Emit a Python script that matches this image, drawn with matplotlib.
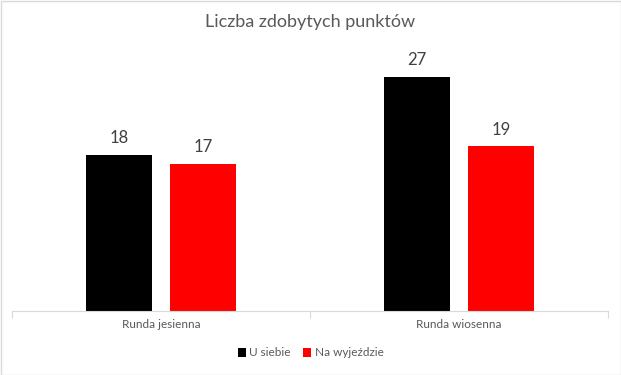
import numpy as np
import matplotlib
matplotlib.use('Agg')
import matplotlib.pyplot as plt
from matplotlib.patches import Rectangle

plt.rcParams['font.family'] = ['Lato', 'DejaVu Sans']

rundy = ['Runda jesienna', 'Runda wiosenna']
u_siebie = [18, 27]
na_wyjezdzie = [17, 19]

fig = plt.figure(figsize=(6.21, 3.75), dpi=100)
ax = fig.add_axes([12/621, 1-311/375, 596/621, 260/375])

x = np.arange(len(rundy))
w = 0.221
b1 = ax.bar(x - 0.141, u_siebie, w, color='black', label='U siebie')
b2 = ax.bar(x + 0.141, na_wyjezdzie, w, color='#ff0000', label='Na wyjeździe')

for bars in (b1, b2):
    for r in bars:
        ax.text(r.get_x() + r.get_width()/2, r.get_height() + 1.0, str(int(r.get_height())),
                ha='center', va='bottom', fontsize=12, color='#404040')

ax.set_xlim(-0.5, 1.5)
ax.set_ylim(0, 30)
ax.set_yticks([])
for s in ['top', 'right', 'left']:
    ax.spines[s].set_visible(False)
ax.spines['bottom'].set_color('#d9d9d9')
ax.set_xticks([-0.5, 0.5, 1.5], minor=False)
ax.set_xticklabels([])
ax.tick_params(axis='x', which='major', length=5, color='#d9d9d9')
ax.set_xticks(x, minor=True)
ax.set_xticklabels(rundy, minor=True, fontsize=8.5, color='#595959')
ax.tick_params(axis='x', which='minor', length=0, pad=6)

fig.text(0.5, 1-22/375, 'Liczba zdobytych punktów', ha='center', va='center',
         fontsize=13, color='#595959')

leg = fig.legend(loc='center', bbox_to_anchor=(0.5, 1-353/375), ncol=2, frameon=False,
                 fontsize=8.5, handlelength=0.7, handleheight=0.7, handletextpad=0.3,
                 columnspacing=1.0)
for t in leg.get_texts():
    t.set_color('#595959')

fig.patches.append(Rectangle((0.5/621, 0.5/375), 1-1/621, 1-1/375, transform=fig.transFigure,
                             fill=False, edgecolor='#d9d9d9', linewidth=1))

fig.savefig('out.png', dpi=100)
